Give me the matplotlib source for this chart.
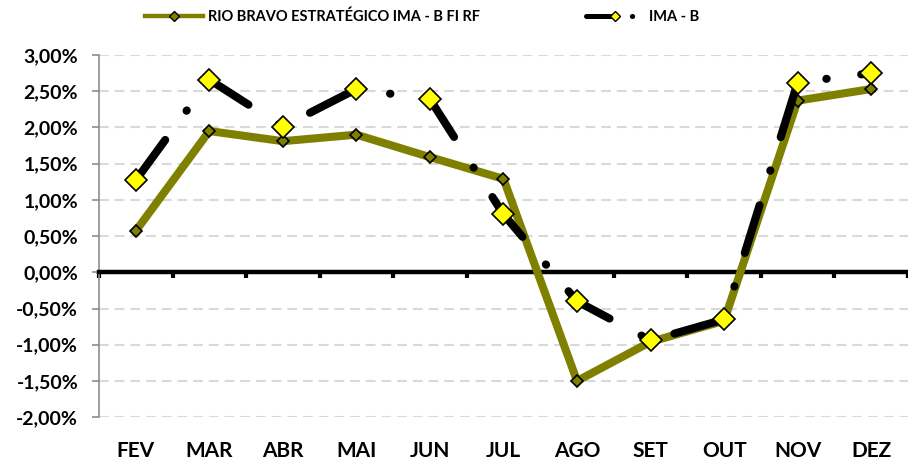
import numpy as np
import matplotlib
matplotlib.use("Agg")
import matplotlib.pyplot as plt
from matplotlib.lines import Line2D
from matplotlib.ticker import FuncFormatter, MultipleLocator

months = ["FEV", "MAR", "ABR", "MAI", "JUN", "JUL", "AGO", "SET", "OUT", "NOV", "DEZ"]
rio_bravo = [0.57, 1.95, 1.81, 1.90, 1.59, 1.29, -1.50, -0.96, -0.67, 2.37, 2.53]
ima_b = [1.27, 2.66, 2.01, 2.53, 2.39, 0.80, -0.40, -0.94, -0.65, 2.62, 2.75]
series_names = ["RIO BRAVO ESTRATÉGICO IMA - B FI RF", "IMA - B"]

OLIVE = "#808000"
YELLOW = "#FFFF00"

plt.rcParams["font.family"] = ["Lato", "DejaVu Sans"]
plt.rcParams["font.weight"] = "bold"
plt.rcParams["lines.scale_dashes"] = False

fig = plt.figure(figsize=(9.08, 4.62), dpi=100)
ax = fig.add_axes([0.109, 0.097, 0.891, 0.784])

x = np.arange(len(months))
ax.plot(x, rio_bravo, color=OLIVE, lw=5.8, marker="D", ms=6, mfc=OLIVE,
        mec="black", mew=1.2, zorder=3)
ax.plot(x, ima_b, color="black", lw=5.8, dashes=(36, 26, 0.3, 25),
        dash_capstyle="round", marker="D", ms=11.5, mfc=YELLOW,
        mec="black", mew=1.2, zorder=4)

ax.set_xlim(-0.5, len(months) - 0.5)
ax.set_ylim(-2, 3)
ax.yaxis.set_major_locator(MultipleLocator(0.5))
ax.yaxis.set_major_formatter(FuncFormatter(lambda v, _: f"{v:.2f}%".replace(".", ",")))
ax.yaxis.grid(True, color="#D9D9D9", lw=1.5, linestyle=(0, (7, 4.3)))
ax.set_axisbelow(True)

for s in ["top", "right"]:
    ax.spines[s].set_visible(False)
ax.spines["left"].set_color("#8C8C8C")
ax.spines["left"].set_linewidth(1.2)
ax.spines["bottom"].set_position(("data", 0))
ax.spines["bottom"].set_linewidth(3.2)
ax.spines["bottom"].set_zorder(2.5)

# boundary ticks on the zero line, labels sit at the bottom
ax.set_xticks(np.arange(-0.5, len(months), 1))
ax.set_xticklabels([])
ax.tick_params(axis="x", length=4.5, width=3, color="black", direction="out")
ax.tick_params(axis="y", length=5, width=1.2, color="#8C8C8C", labelsize=14, pad=10)

sec = ax.secondary_xaxis(0)
sec.set_xticks(x, months)
sec.tick_params(length=0, pad=17, labelsize=15)
sec.spines["bottom"].set_visible(False)

h1 = Line2D([], [], color=OLIVE, lw=3.2, marker="D", ms=5, mfc=OLIVE, mec="black", mew=1)
h2 = Line2D([], [], color="black", lw=3.6, dashes=(21, 12, 0.3, 12), dash_capstyle="round",
            marker="D", ms=5, mfc=YELLOW, mec="black", mew=1)
fig.legend(handles=[h1, h2], labels=series_names, loc="center left",
           bbox_to_anchor=(145 / 908, 0.963), ncol=2, frameon=False, fontsize=10.5,
           handlelength=4.0, handletextpad=0.3, columnspacing=7.3,
           borderpad=0, borderaxespad=0)

fig.savefig("out.png", dpi=100)
